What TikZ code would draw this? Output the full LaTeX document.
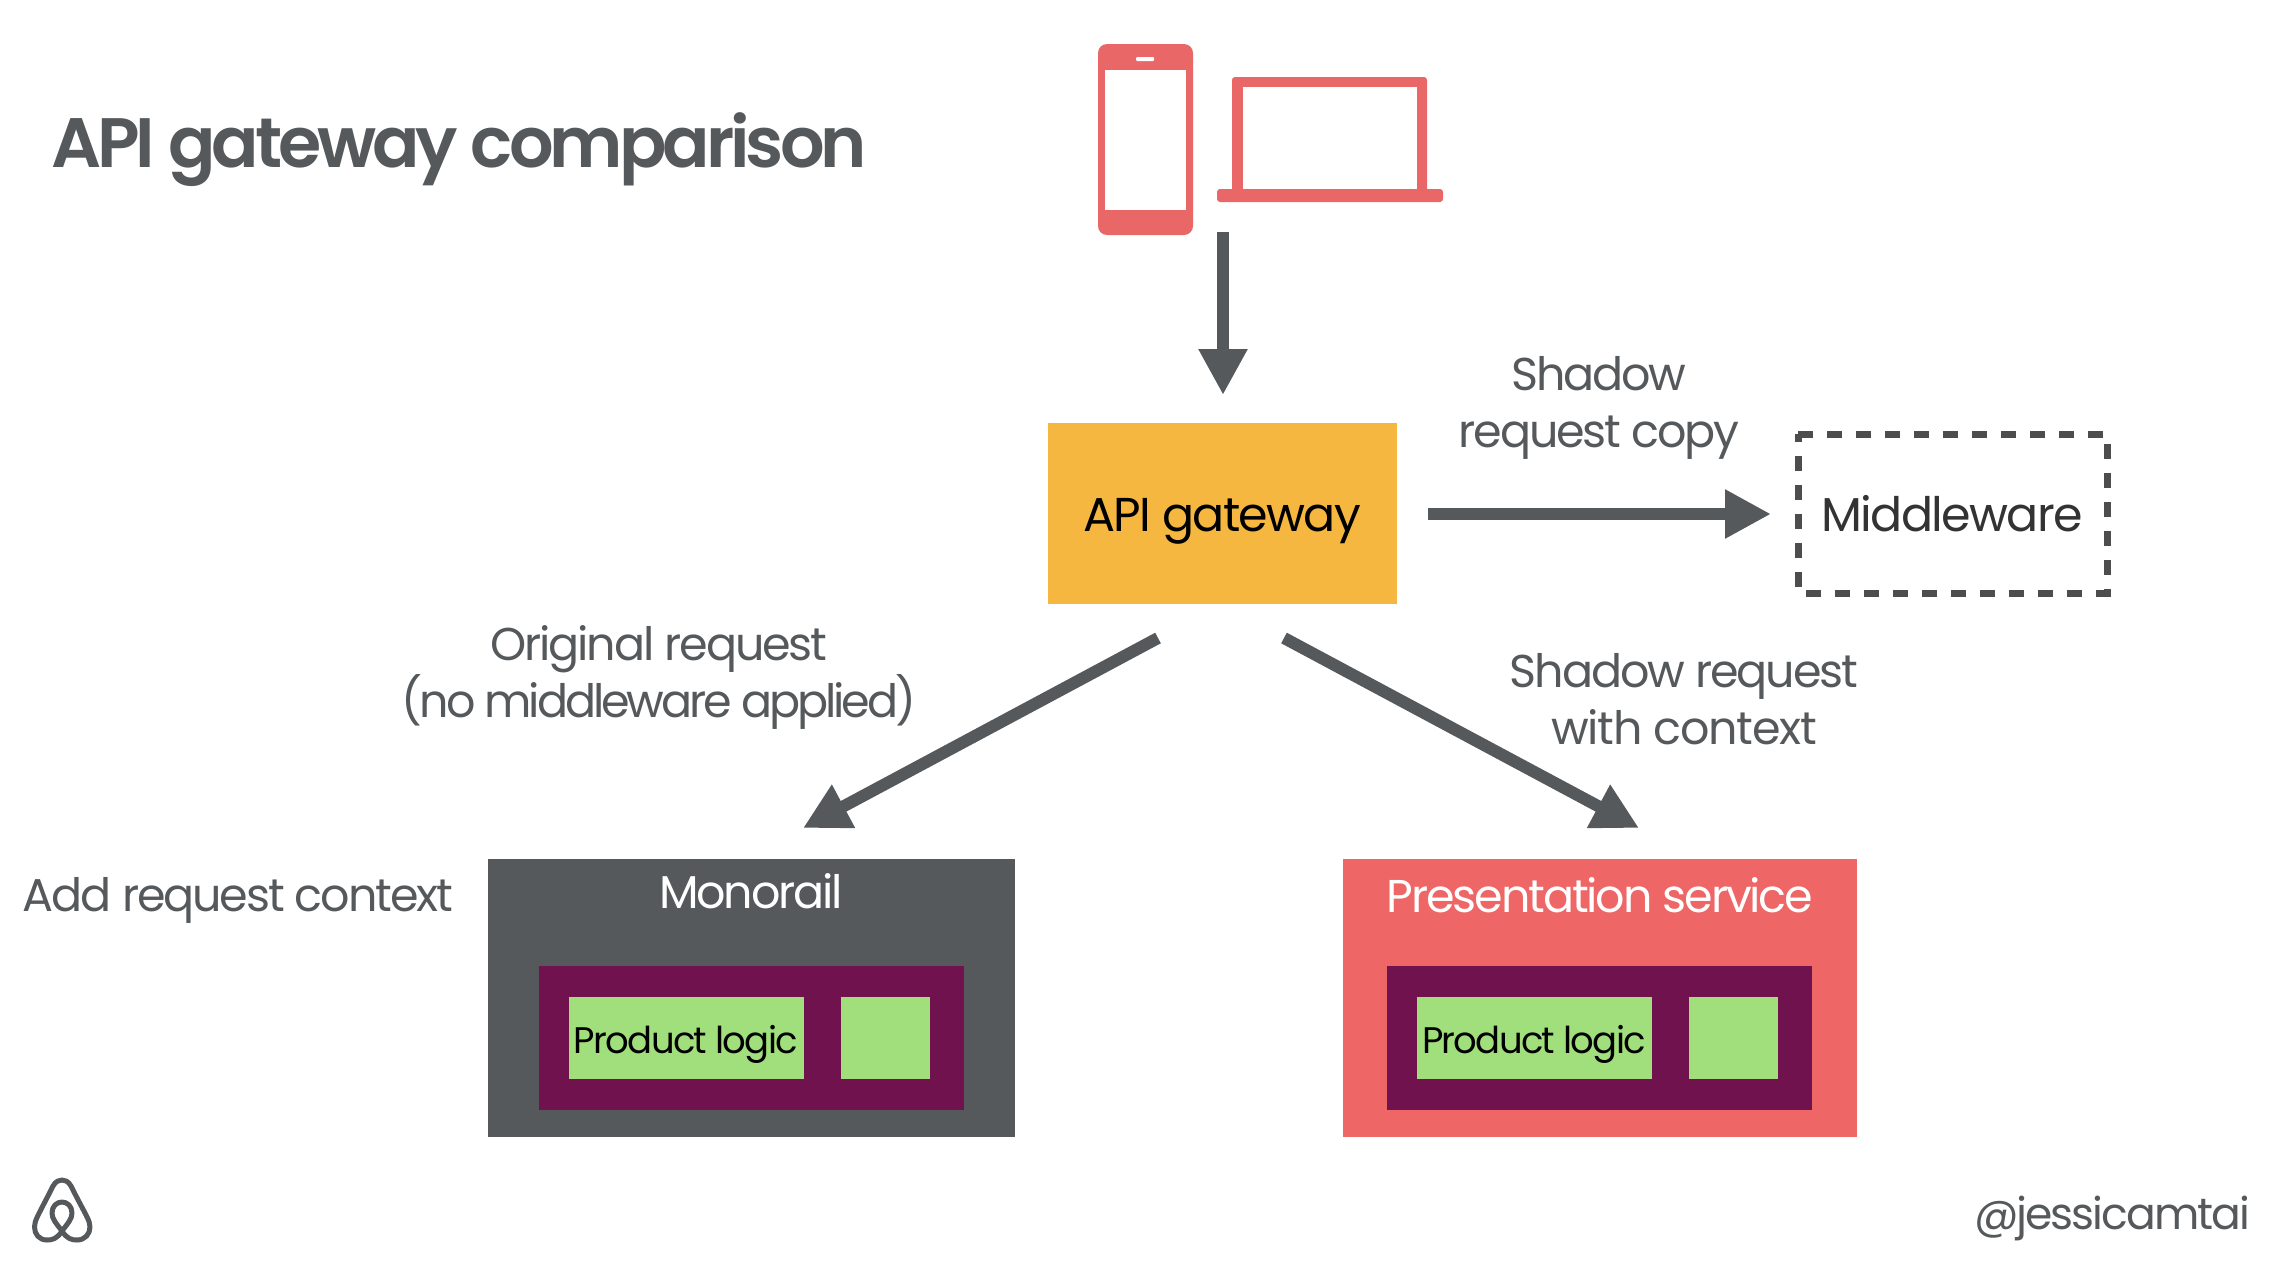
\documentclass[tikz,border=0pt]{standalone}
\usepackage{fontspec}
\setmainfont{Poppins}[LetterSpace=-3.5]
\newfontfamily\titlefont{Poppins SemiBold}[LetterSpace=-5.7]
\newfontfamily\tightfont{Poppins}[LetterSpace=-4.6]
\newfontfamily\tighterfont{Poppins}[LetterSpace=-6.7]
\newfontfamily\looserfont{Poppins}[LetterSpace=-2.8]
\usetikzlibrary{arrows.meta}
\definecolor{coral}{HTML}{EE6666}
\definecolor{iconred}{HTML}{E96767}
\definecolor{slate}{HTML}{55595B}
\definecolor{plum}{HTML}{70124E}
\definecolor{leaf}{HTML}{A0DF7C}
\definecolor{amber}{HTML}{F5B740}
\definecolor{dashgray}{HTML}{4D4D4D}
\tikzset{
  lbl/.style={inner sep=0pt,text=slate,align=center,font=\tightfont\fontsize{46}{57}\selectfont},
  boxtxt/.style={inner sep=0pt,align=center,font=\fontsize{47.5}{57}\selectfont},
  headtxt/.style={inner sep=0pt,align=center,text=white,font=\tightfont\fontsize{46}{57}\selectfont},
  plate/.style={inner sep=0pt,anchor=north west},
  greenbox/.style={plate,fill=leaf,text=black},
  pltxt/.style={inner sep=0pt,text=black,font=\tightfont\fontsize{37}{46}\selectfont},
  bigarrow/.style={draw=slate,line width=12pt,-{Triangle[length=46pt,width=46pt]}},
}
\begin{document}
\begin{tikzpicture}[x=1pt,y=-1pt]
\useasboundingbox (0,0) rectangle (2282,1280);
% title
\node[anchor=base west,inner sep=0pt,text=slate,font=\titlefont\fontsize{70}{80}\selectfont] (title) at (51,167) {API gateway comparison};
% phone
\fill[iconred,rounded corners=9pt] (1098,44) rectangle (1193,235);
\fill[white] (1105,70) rectangle (1186,210);
\fill[white,rounded corners=1pt] (1136,57) rectangle (1154,61);
% laptop
\fill[iconred,rounded corners=3pt] (1232,77) rectangle (1427,195);
\fill[iconred,rounded corners=3pt] (1217,189) rectangle (1443,202);
\fill[white] (1243,87) rectangle (1417,189);
\coordinate (devices) at (1223,232);
% main boxes
\node[plate,fill=amber,minimum width=349pt,minimum height=181pt] (gw) at (1048,423) {};
\node[boxtxt,text=black] (gwtxt) at (1222,521) {API gateway};
\node[plate,minimum width=316pt,minimum height=159pt] (mw) at (1798,434) {};
\draw[dashgray,line width=7pt,dash pattern=on 15pt off 14pt] (1798,434) -- (2107,434) -- (2107,593) -- (1798,593) -- cycle;
\node[boxtxt,text=black!80] (mwtxt) at (1952,514) {Middleware};
% monorail
\node[plate,fill=slate,minimum width=527pt,minimum height=278pt] (mono) at (488,859) {};
\node[headtxt] (monotxt) at (751,891) {Monorail};
\node[plate,fill=plum,minimum width=425pt,minimum height=144pt] (monoin) at (539,966) {};
\node[greenbox,minimum width=235pt,minimum height=82pt] (monopl) at (569,997) {};
\node[pltxt] (monopltxt) at (686,1044) {Product logic};
\node[greenbox,minimum width=89pt,minimum height=82pt] (monosq) at (841,997) {};
% presentation
\node[plate,fill=coral,minimum width=514pt,minimum height=278pt] (pres) at (1343,859) {};
\node[headtxt] (prestxt) at (1600,895) {Presentation service};
\node[plate,fill=plum,minimum width=425pt,minimum height=144pt] (presin) at (1387,966) {};
\node[greenbox,minimum width=235pt,minimum height=82pt] (prespl) at (1417,997) {};
\node[pltxt] (prespltxt) at (1534,1044) {Product logic};
\node[greenbox,minimum width=89pt,minimum height=82pt] (pressq) at (1689,997) {};
% labels
\node[lbl] (l1) at (1599,408) {Shadow\\request copy};
\node[lbl] (l2) at (659,677) {Original request\\{\tighterfont\fontsize{46}{57}\selectfont (no middleware applied)}};
\node[lbl] (l3) at (1684,699) {Shadow request\\{\looserfont\fontsize{46}{57}\selectfont with context}};
\node[lbl] (l4) at (238,900) {Add request context};
\node[lbl,anchor=east,font=\tightfont\fontsize{44}{57}\selectfont] (l5) at (2250,1218) {@jessicamtai};
% connector ends
\coordinate (gwtop) at (1223,395);
\coordinate (gwright) at (1428,514);
\coordinate (mwleft) at (1771,514);
\coordinate (gwsw) at (1158,638);
\coordinate (gwse) at (1284,638);
\coordinate (monotop) at (803,828);
\coordinate (prestop) at (1639,828);
\draw[bigarrow] (devices) -- (gwtop);
\draw[bigarrow] (gwright) -- (mwleft);
\draw[bigarrow] (gwsw) -- (monotop);
\draw[bigarrow] (gwse) -- (prestop);
% logo
\draw[slate,line width=5pt,line join=round] (62,1231)
  .. controls (57,1239) and (52,1240) .. (47,1240)
  .. controls (39,1240) and (34.5,1234) .. (34.5,1227)
  .. controls (34.5,1220) and (38,1216) .. (53,1186)
  .. controls (56,1181) and (59,1180) .. (62,1180)
  .. controls (65,1180) and (68,1181) .. (71,1186)
  .. controls (86,1216) and (90,1220) .. (90,1227)
  .. controls (90,1234) and (85,1240) .. (77,1240)
  .. controls (72,1240) and (67,1239) .. (62,1231)
  .. controls (56,1223) and (52,1219) .. (52,1213)
  .. controls (52,1206) and (57,1202) .. (62,1202)
  .. controls (67,1202) and (72,1206) .. (72,1213)
  .. controls (72,1219) and (68,1223) .. (62,1231) -- cycle;
\end{tikzpicture}
\end{document}
